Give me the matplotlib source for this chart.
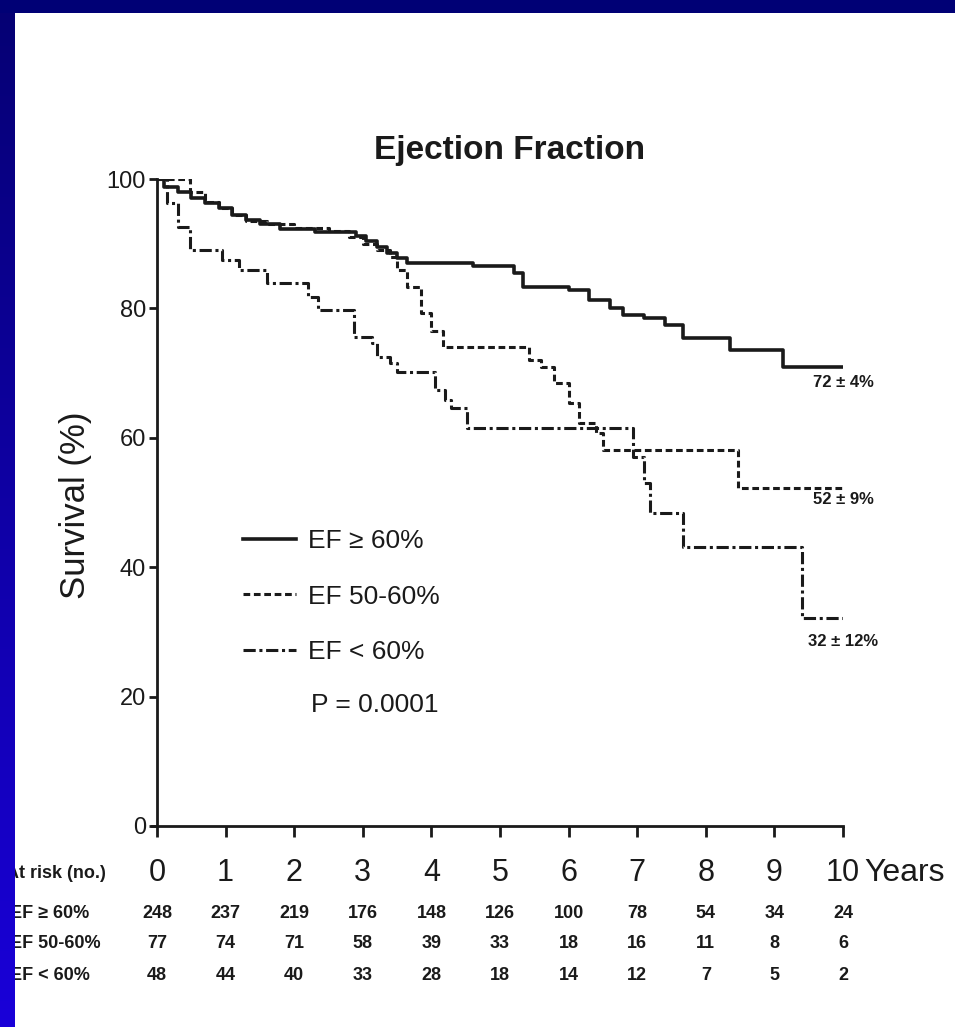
import numpy as np
import matplotlib
matplotlib.use("Agg")
import matplotlib.pyplot as plt
from matplotlib import font_manager
from matplotlib.lines import Line2D
import matplotlib.transforms as mtransforms

# ---------------- data ----------------
years_hi = [0, 0.1, 0.3, 0.5, 0.7, 0.9, 1.1, 1.3, 1.5, 1.8, 2.3, 2.9, 3.05, 3.2, 3.35, 3.5, 3.65,
            4.6, 5.2, 5.33, 6.0, 6.3, 6.6, 6.8, 7.1, 7.4, 7.67, 8.35, 9.13, 10.05]
surv_hi = [100, 98.8, 98, 97, 96.3, 95.5, 94.5, 93.7, 93, 92.3, 91.8, 91.2, 90.4, 89.5, 88.5, 87.8, 87,
           86.5, 85.5, 83.3, 82.8, 81.3, 80, 79, 78.5, 77.5, 75.5, 73.6, 71, 71]

years_mid = [0, 0.48, 0.7, 0.9, 1.1, 1.3, 1.6, 2.0, 2.5, 2.8, 3.0, 3.2, 3.4, 3.5, 3.65, 3.85, 4.0,
             4.17, 5.43, 5.6, 5.78, 6.0, 6.15, 6.4, 6.5, 8.47, 10.05]
surv_mid = [100, 98, 96.5, 95.5, 94.5, 93.5, 93, 92.5, 92, 91, 90, 89, 88, 86, 83.3, 79.3, 76.5,
            74, 72, 71, 68.5, 65.4, 62.3, 60.7, 58.1, 52.2, 52.2]

years_lo = [0, 0.15, 0.3, 0.48, 0.95, 1.2, 1.6, 2.2, 2.35, 2.87, 3.13, 3.2, 3.4, 3.5, 4.05,
            4.2, 4.28, 4.52, 6.94, 7.1, 7.19, 7.67, 9.4, 10.05]
surv_lo = [100, 96.3, 92.6, 89, 87.5, 86, 84, 81.8, 79.8, 75.6, 74.6, 72.5, 71.6, 70.2, 67.4,
           65.8, 64.6, 61.5, 57, 53, 48.4, 43.1, 32.1, 32.1]

group_labels = ["EF \u2265 60%", "EF 50-60%", "EF < 60%"]
end_labels = ["72 \u00b1 4%", "52 \u00b1 9%", "32 \u00b1 12%"]
end_label_y = [68.5, 50.5, 28.5]
p_text = "P = 0.0001"

risk_years = list(range(11))
risk_hi = [248, 237, 219, 176, 148, 126, 100, 78, 54, 34, 24]
risk_mid = [77, 74, 71, 58, 39, 33, 18, 16, 11, 8, 6]
risk_lo = [48, 44, 40, 33, 28, 18, 14, 12, 7, 5, 2]
yticks = [0, 20, 40, 60, 80, 100]

# ---------------- fonts ----------------
def pick(fams):
    for f in fams:
        try:
            font_manager.findfont(f, fallback_to_default=False)
            return f
        except Exception:
            pass
    return "DejaVu Sans"

NARROW = pick(["Liberation Sans Narrow", "Liberation Sans", "DejaVu Sans"])
FAM = [NARROW, "DejaVu Sans"]
plt.rcParams["font.family"] = FAM

W, H = 955, 1027
fig = plt.figure(figsize=(W / 100, H / 100), dpi=100)
fig.patch.set_facecolor("white")

def fx(px):
    return px / W

def fy(py):
    return 1 - py / H

# main axes: x 0..10 -> px 157..843 ; y 0..100 -> py 826..179
ax = fig.add_axes([fx(157), fy(826), fx(843) - fx(157), fy(179) - fy(826)])
ax.set_xlim(0, 10)
ax.set_ylim(0, 100)
ax.patch.set_alpha(0)

ink = "#1a1a1a"
ls_mid = (0, (2.2, 1.2))
ls_lo = (0, (4.0, 1.2, 1.0, 1.2))
ax.step(years_hi, surv_hi, where="post", color=ink, lw=2.6)
ax.step(years_mid, surv_mid, where="post", color=ink, lw=2.2, linestyle=ls_mid)
ax.step(years_lo, surv_lo, where="post", color=ink, lw=2.2, linestyle=ls_lo)

for s in ["top", "right"]:
    ax.spines[s].set_visible(False)
for s in ["left", "bottom"]:
    ax.spines[s].set_linewidth(2.0)
    ax.spines[s].set_color(ink)
ax.spines["bottom"].set_bounds(-0.08, 10)

ax.set_yticks(yticks)
ax.set_yticklabels([str(v) for v in yticks])
ax.set_xticks(risk_years)
ax.set_xticklabels([str(v) for v in risk_years])
ax.tick_params(axis="y", length=6, width=2, pad=2, labelsize=17, colors=ink)
ax.tick_params(axis="x", length=8, width=2, pad=15, labelsize=22, colors=ink)

fig.text(fx(75), fy(505), "Survival (%)", rotation=90, ha="center", va="center",
         fontsize=25, color=ink)

# end labels
for lab, yv in zip(end_labels, end_label_y):
    ax.text(10.0, yv, lab, ha="center", va="center", fontsize=12, fontweight="bold",
            color=ink, clip_on=False)

# legend
handles = [
    Line2D([], [], color=ink, lw=2.6),
    Line2D([], [], color=ink, lw=2.2, linestyle=ls_mid),
    Line2D([], [], color=ink, lw=2.2, linestyle=ls_lo),
]
fig.legend(handles, group_labels, loc="upper left", bbox_to_anchor=(fx(243), fy(529)),
           frameon=False, fontsize=19, handlelength=2.0, handletextpad=0.45,
           labelspacing=1.2, borderpad=0, borderaxespad=0, labelcolor=ink)
fig.text(fx(311), fy(705), p_text, ha="left", va="center", fontsize=19, color=ink)

# title
fig.text(fx(510), fy(150), "Ejection Fraction", ha="center", va="center",
         fontsize=24, fontweight="bold", color=ink)

# Years label
fig.text(fx(864), fy(873), "Years", ha="left", va="center", fontsize=23, color=ink)

# at-risk table
trans = mtransforms.blended_transform_factory(ax.transData, fig.transFigure)
fig.text(fx(6), fy(873), "At risk (no.)", ha="left", va="center", fontsize=13,
         fontweight="bold", color=ink)
rows_y = [913, 943, 975]
for lab, counts, py in zip(group_labels, [risk_hi, risk_mid, risk_lo], rows_y):
    fig.text(fx(10), fy(py), lab, ha="left", va="center", fontsize=13,
             fontweight="bold", color=ink)
    for yr, c in zip(risk_years, counts):
        ax.text(yr, fy(py), str(c), transform=trans, ha="center", va="center",
                fontsize=13, fontweight="bold", color=ink, clip_on=False)

# slide border (blue frame) drawn on top
bg = fig.add_axes([0, 0, 1, 1], zorder=10)
bg.set_axis_off()
img = np.zeros((H, W, 4))
yy = np.linspace(0, 1, H)[:, None]
left = np.zeros((H, 15, 3))
left[:, :, 0] = 0.02 + 0.08 * yy
left[:, :, 2] = 0.45 + 0.40 * yy
img[:, :15, :3] = left
img[:, :15, 3] = 1
img[:13, :, :3] = [0.0, 0.0, 0.46]
img[:13, :, 3] = 1
bg.imshow(img, extent=[0, 1, 0, 1], aspect="auto", interpolation="nearest")
bg.set_xlim(0, 1)
bg.set_ylim(0, 1)

fig.savefig("out.png", dpi=100, facecolor=fig.get_facecolor())
